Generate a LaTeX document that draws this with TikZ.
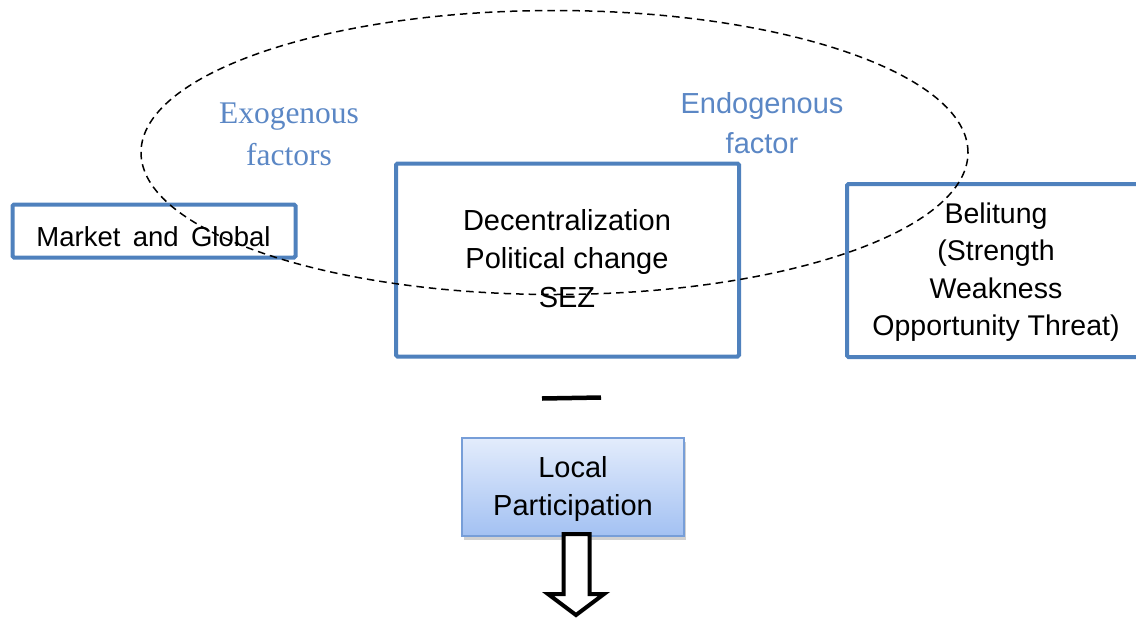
\documentclass[tikz,border=0pt]{standalone}
\usepackage{fontspec}
\setmainfont{Liberation Sans}
\newfontfamily\timesfont{Liberation Serif}
\usetikzlibrary{shadows}
\definecolor{boxblue}{HTML}{4F81BD}
\definecolor{txtblue}{HTML}{5B87C5}
\definecolor{lpTop}{HTML}{E3ECFC}
\definecolor{lpBot}{HTML}{A3C1F2}
\definecolor{lpBorder}{HTML}{779ED8}
\begin{document}
\begin{tikzpicture}[x=1pt,y=-1pt,
  bluebox/.style={draw=boxblue, line width=4pt, rounded corners=1.5pt, inner sep=0pt},
  bodytext/.style={font=\fontsize{29}{38.7}\selectfont, align=center, inner sep=0pt},
  swottext/.style={font=\fontsize{28.5}{37.5}\selectfont, align=center, inner sep=0pt},
  exotext/.style={font=\timesfont\fontsize{31.5}{42}\selectfont, text=txtblue, align=center, inner sep=0pt},
  endotext/.style={font=\fontsize{29}{40.5}\selectfont, text=txtblue, align=center, inner sep=0pt},
  lpbox/.style={draw=lpBorder, line width=1.2pt, top color=lpTop, bottom color=lpBot, inner sep=0pt,
    drop shadow={shadow xshift=1.5pt, shadow yshift=-4pt, opacity=0.3, fill=black!60}},
  hollowarrow/.style={draw=black, line width=4pt, fill=white, line join=miter},
  scope ellipse/.style={draw=black, line width=1.5pt, dash pattern=on 7.5pt off 5pt},
  stub/.style={draw=black, line width=4.5pt}
]
\useasboundingbox (0,0) rectangle (1136,619);

% boxes
\node[bluebox, minimum width=283pt, minimum height=53pt] (market) at (154,231) {};
\node[bluebox, minimum width=343pt, minimum height=193pt] (central) at (567.5,260) {};
\node[bluebox, minimum width=300pt, minimum height=173pt] (belitung) at (997,270.5) {};

% texts in boxes
\node[bodytext, font=\fontsize{27.5}{38}\selectfont, anchor=base] (markettext) at (153.5,246) {Market\hspace{0.45em}and\hspace{0.45em}Global};
\node[bodytext, anchor=north] (centraltext) at (567,209) {Decentralization\\Political change\\SEZ};
\node[swottext, anchor=north] (belitungtext) at (996,202.5) {Belitung\\(Strength\\Weakness\\Opportunity Threat)};

% factor labels
\node[exotext, anchor=north] (exo) at (289,103) {Exogenous\\factors};
\node[endotext, anchor=north] (endo) at (762,92) {Endogenous\\factor};

% short stub line
\coordinate (stubL) at (542,398.5);
\coordinate (stubR) at (601,397.5);
\draw[stub] (stubL) -- (stubR);

% local participation
\node[lpbox, minimum width=222pt, minimum height=98pt] (local) at (573,487) {};
\node[bodytext, font=\fontsize{29}{38}\selectfont, anchor=north] (localtext) at (573,456) {Local\\Participation};

% hollow arrow
\coordinate (a1) at (563.5,534);
\coordinate (a2) at (589.5,534);
\coordinate (a3) at (589.5,594);
\coordinate (a4) at (604,594);
\coordinate (atip) at (576,615);
\coordinate (a6) at (548,594);
\coordinate (a7) at (563.5,594);
\draw[hollowarrow] (a1) -- (a2) -- (a3) -- (a4) -- (atip) -- (a6) -- (a7) -- cycle;

% dashed ellipse on top
\draw[scope ellipse] (554.5,152.5) ellipse [x radius=413.5pt, y radius=142pt];
\end{tikzpicture}
\end{document}
